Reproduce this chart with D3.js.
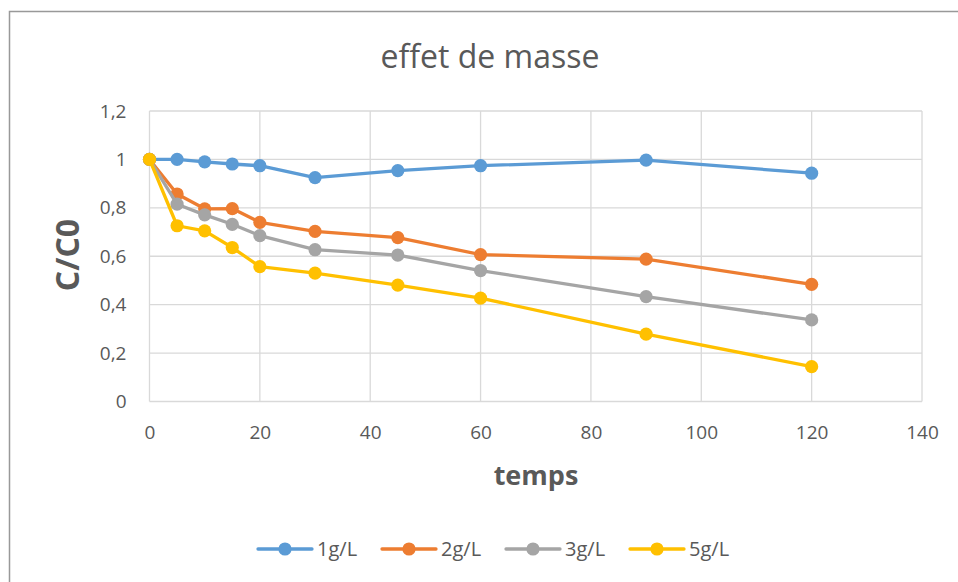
<!DOCTYPE html>
<html>
<head>
<meta charset="utf-8">
<script src="https://cdn.jsdelivr.net/npm/d3@7.9.0/dist/d3.min.js"></script>
<style>
  html, body { margin: 0; padding: 0; background: #fff; }
  svg { display: block; font-family: 'Open Sans', sans-serif; }
</style>
</head>
<body>
<svg id="chart"></svg>
<script>
// data
const temps = [0, 5, 10, 15, 20, 30, 45, 60, 90, 120];
const c1 = [1, 1.0, 0.99, 0.981, 0.974, 0.925, 0.954, 0.974, 0.997, 0.943];
const c2 = [1, 0.857, 0.796, 0.797, 0.740, 0.703, 0.677, 0.607, 0.588, 0.484];
const c3 = [1, 0.815, 0.771, 0.732, 0.685, 0.627, 0.605, 0.541, 0.433, 0.337];
const c5 = [1, 0.726, 0.705, 0.636, 0.557, 0.530, 0.481, 0.427, 0.278, 0.144];
const seriesNames = ['1g/L', '2g/L', '3g/L', '5g/L'];
const seriesColors = ['#5B9BD5', '#ED7D31', '#A5A5A5', '#FFC000'];
const xTicks = [0, 20, 40, 60, 80, 100, 120, 140];
const yTicks = [0, 0.2, 0.4, 0.6, 0.8, 1, 1.2];

const width = 958;
const height = 582;

const series = [c1, c2, c3, c5].map((vals, i) => ({
  name: seriesNames[i],
  color: seriesColors[i],
  points: temps.map((t, j) => ({ t, v: vals[j] })),
}));

const svg = d3.select('#chart')
  .attr('width', width)
  .attr('height', height)
  .attr('viewBox', [0, 0, width, height]);

// chart frame
svg.append('rect')
  .attr('x', 9.5).attr('y', 11.5)
  .attr('width', width + 20).attr('height', height + 20)
  .attr('fill', '#fff')
  .attr('stroke', '#999')
  .attr('stroke-width', 1.5);

const x = d3.scaleLinear().domain([0, 140]).range([149.5, 922]);
const y = d3.scaleLinear().domain([0, 1.2]).range([401.5, 111]);

const fmt = (d) => String(d).replace('.', ',');

// gridlines
svg.append('g')
  .selectAll('line')
  .data(yTicks)
  .join('line')
  .attr('x1', x(0)).attr('x2', x(140))
  .attr('y1', (d) => y(d)).attr('y2', (d) => y(d))
  .attr('stroke', '#d9d9d9').attr('stroke-width', 1.3);

svg.append('g')
  .selectAll('line')
  .data(xTicks)
  .join('line')
  .attr('x1', (d) => x(d)).attr('x2', (d) => x(d))
  .attr('y1', y(0)).attr('y2', y(1.2))
  .attr('stroke', '#d9d9d9').attr('stroke-width', 1.3);

// axes (labels only)
svg.append('g')
  .attr('transform', `translate(0,${y(0)})`)
  .call(d3.axisBottom(x).tickValues(xTicks).tickSize(0).tickPadding(24).tickFormat(fmt))
  .call((g) => g.select('.domain').remove())
  .call((g) => g.selectAll('text')
    .attr('font-family', "'Open Sans', sans-serif")
    .attr('font-size', 19).attr('fill', '#595959'));

svg.append('g')
  .attr('transform', `translate(${x(0)},0)`)
  .call(d3.axisLeft(y).tickValues(yTicks).tickSize(0).tickPadding(23).tickFormat(fmt))
  .call((g) => g.select('.domain').remove())
  .call((g) => g.selectAll('text')
    .attr('font-family', "'Open Sans', sans-serif")
    .attr('font-size', 19).attr('fill', '#595959'));

// title and axis titles
svg.append('text')
  .attr('x', 490).attr('y', 68)
  .attr('text-anchor', 'middle')
  .attr('font-size', 32).attr('fill', '#595959')
  .text('effet de masse');

svg.append('text')
  .attr('x', 536).attr('y', 485)
  .attr('text-anchor', 'middle')
  .attr('font-size', 27).attr('font-weight', 'bold').attr('fill', '#595959')
  .text('temps');

svg.append('text')
  .attr('transform', 'translate(79,255) rotate(-90)')
  .attr('text-anchor', 'middle')
  .attr('font-size', 32).attr('font-weight', 'bold').attr('fill', '#595959')
  .text('C/C0');

// series
const line = d3.line().x((d) => x(d.t)).y((d) => y(d.v));

const gs = svg.append('g')
  .selectAll('g')
  .data(series)
  .join('g');

gs.append('path')
  .attr('d', (d) => line(d.points))
  .attr('fill', 'none')
  .attr('stroke', (d) => d.color)
  .attr('stroke-width', 3.3)
  .attr('stroke-linejoin', 'round');

gs.selectAll('circle')
  .data((d) => d.points.map((p) => ({ ...p, color: d.color })))
  .join('circle')
  .attr('cx', (d) => x(d.t))
  .attr('cy', (d) => y(d.v))
  .attr('r', 6.6)
  .attr('fill', (d) => d.color);

// legend
const legend = svg.append('g')
  .selectAll('g')
  .data(series)
  .join('g')
  .attr('transform', (d, i) => `translate(${258 + i * 124},549)`);

legend.append('line')
  .attr('x1', 0).attr('x2', 54)
  .attr('stroke', (d) => d.color)
  .attr('stroke-width', 3.3)
  .attr('stroke-linecap', 'round');

legend.append('circle')
  .attr('cx', 27).attr('r', 6.6)
  .attr('fill', (d) => d.color);

legend.append('text')
  .attr('x', 59).attr('dy', '0.35em')
  .attr('font-size', 20).attr('fill', '#595959')
  .text((d) => d.name);
</script>
</body>
</html>
